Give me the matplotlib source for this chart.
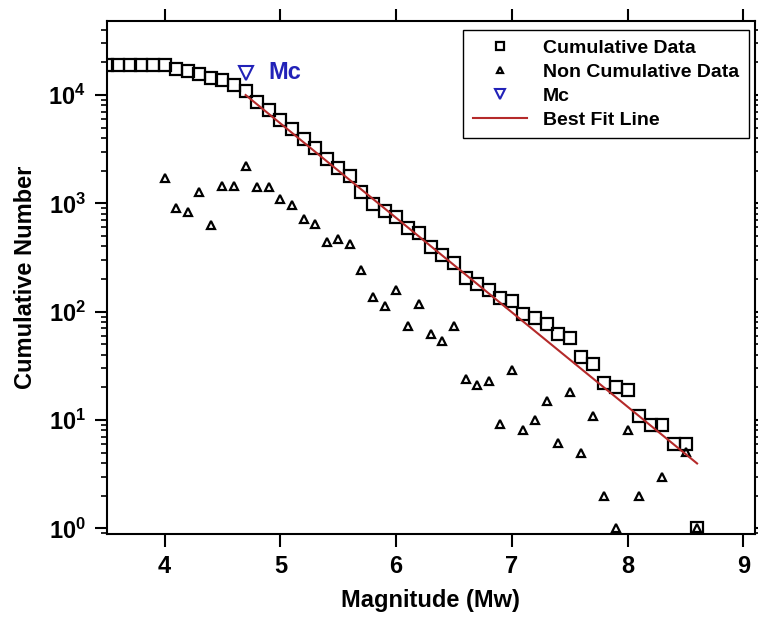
import numpy as np
import matplotlib
matplotlib.use("Agg")
import matplotlib.pyplot as plt
from matplotlib.ticker import LogLocator, NullFormatter

plt.rcParams['font.family'] = 'Liberation Sans'
plt.rcParams['font.weight'] = 'bold'
plt.rcParams['mathtext.fontset'] = 'custom'
plt.rcParams['mathtext.rm'] = 'Liberation Sans:bold'
plt.rcParams['mathtext.bf'] = 'Liberation Sans:bold'
plt.rcParams['mathtext.default'] = 'bf'

# magnitude bins (Mw)
mag = [3.5, 3.6, 3.7, 3.8, 3.9, 4.0, 4.1, 4.2, 4.3, 4.4, 4.5, 4.6, 4.7, 4.8, 4.9,
       5.0, 5.1, 5.2, 5.3, 5.4, 5.5, 5.6, 5.7, 5.8, 5.9, 6.0, 6.1, 6.2, 6.3, 6.4,
       6.5, 6.6, 6.7, 6.8, 6.9, 7.0, 7.1, 7.2, 7.3, 7.4, 7.5, 7.6, 7.7, 7.8, 7.9,
       8.0, 8.1, 8.2, 8.3, 8.4, 8.5, 8.6]

cumulative = [19000, 19000, 19000, 19000, 19000, 19000, 17300, 16500, 15700, 14500,
              13800, 12400, 11000, 8600, 7300, 5900, 4840, 3950, 3240, 2580,
              2110, 1770, 1260, 990, 850, 745, 590, 531, 399, 334,
              280, 204, 181, 159, 135, 126, 95, 88, 77, 62,
              57, 38.5, 33, 22, 20, 19, 10.9, 9, 9, 6,
              6, 1]

# non cumulative counts
mag_nc = [4.0, 4.1, 4.2, 4.3, 4.4, 4.5, 4.6, 4.7, 4.8, 4.9,
          5.0, 5.1, 5.2, 5.3, 5.4, 5.5, 5.6, 5.7, 5.8, 5.9,
          6.0, 6.1, 6.2, 6.3, 6.4, 6.5, 6.6, 6.7, 6.8, 6.9,
          7.0, 7.1, 7.2, 7.3, 7.4, 7.5, 7.6, 7.7, 7.8, 7.9,
          8.0, 8.1, 8.3, 8.5, 8.6]
non_cumulative = [1710, 900, 840, 1260, 632, 1460, 1460, 2230, 1420, 1420,
                  1100, 970, 720, 650, 444, 470, 423, 240, 136, 113,
                  157, 74, 118, 62, 54, 74, 24, 21, 23, 9.2,
                  29, 8.1, 10, 15, 6.1, 18, 5, 11, 2, 1,
                  8.1, 2, 3, 5.1, 1]

mc_mag = 4.7
mc_value = 16100

# best fit line: log N = a - b M
fit_a, fit_b = 8.098, 0.872
fit_mag = [4.7, 8.6]
fit_n = [10 ** (fit_a - fit_b * m) for m in fit_mag]

fig = plt.figure(figsize=(7.58, 6.23), dpi=100)
ax = fig.add_axes([0.1408, 0.1429, 0.996 - 0.1408, 0.966 - 0.1429])

ax.plot(mag, cumulative, linestyle='none', marker='s', markersize=9,
        markerfacecolor='none', markeredgecolor='black', markeredgewidth=1.6,
        label='Cumulative Data')
ax.plot(mag_nc, non_cumulative, linestyle='none', marker='^', markersize=6,
        markerfacecolor='none', markeredgecolor='black', markeredgewidth=1.6,
        label='Non Cumulative Data')
ax.plot([mc_mag], [mc_value], linestyle='none', marker='v', markersize=10,
        markerfacecolor='none', markeredgecolor='#2222b8', markeredgewidth=1.5,
        label='Mc')
ax.plot(fit_mag, fit_n, color='#b52a2a', linewidth=1.5, label='Best Fit Line')

ax.text(mc_mag + 0.2, mc_value, 'Mc', color='#2222b8', fontsize=17,
        fontweight='bold', va='center', ha='left')

ax.set_yscale('log')
ax.set_xlim(3.5, 9.1)
ax.set_ylim(0.887, 48000)
ax.set_xticks([4, 5, 6, 7, 8, 9])
ax.yaxis.set_major_locator(LogLocator(base=10, numticks=10))
ax.yaxis.set_minor_locator(LogLocator(base=10, subs=np.arange(2, 10), numticks=20))
ax.yaxis.set_minor_formatter(NullFormatter())

ax.tick_params(axis='both', which='major', direction='out', length=9, width=1.5,
               labelsize=17, top=True, right=True, pad=6)
ax.tick_params(axis='y', which='minor', direction='out', length=4.5, width=1.2,
               right=True)
ax.tick_params(axis='x', which='minor', bottom=False, top=False)
for s in ax.spines.values():
    s.set_linewidth(1.5)

ax.set_xlabel('Magnitude (Mw)', fontsize=17, fontweight='bold', labelpad=8)
ax.set_ylabel('Cumulative Number', fontsize=17, fontweight='bold', labelpad=8)

leg = ax.legend(loc='upper left', bbox_to_anchor=(0.55, 0.983), borderaxespad=0,
                fontsize=14, fancybox=False, edgecolor='black', framealpha=1,
                markerscale=0.7, handlelength=2.8, labelspacing=0.32,
                borderpad=0.5)
leg.get_frame().set_linewidth(1.0)

fig.savefig('out.png', dpi=100)
